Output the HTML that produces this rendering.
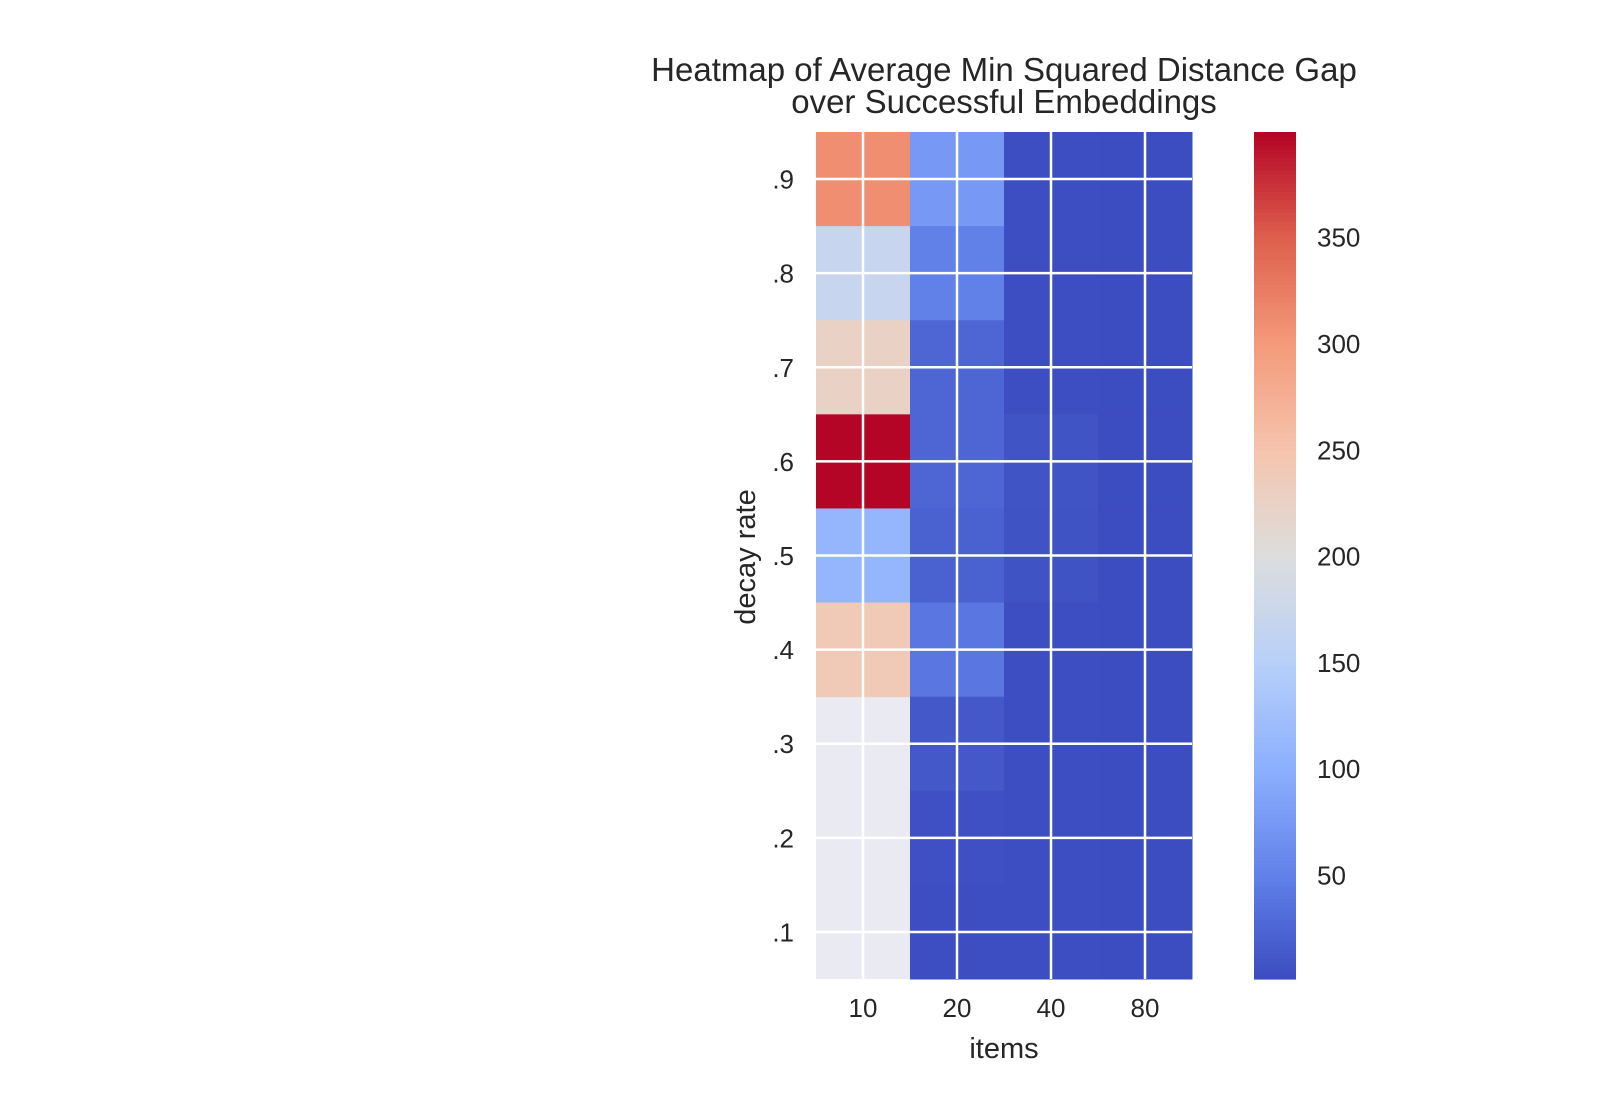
<!DOCTYPE html>
<html><head><meta charset="utf-8"><style>
body{margin:0;background:#fff;}
svg text{font-family:"Liberation Sans",Arial,sans-serif;fill:#262626;}
</style></head><body>
<svg id="chart" width="1600" height="1100" viewBox="0 0 1600 1100">
<g id="title">
<text x="1004" y="81" font-size="33" text-anchor="middle">Heatmap of Average Min Squared Distance Gap</text>
<text x="1004" y="113" font-size="33" text-anchor="middle">over Successful Embeddings</text>
</g>
<rect x="816" y="132" width="376" height="847" fill="#eaeaf2"/>
<g id="cells"></g>
<g id="grid"></g>
<g id="xticks"></g>
<g id="yticks"></g>
<text x="1004" y="1058" font-size="29" text-anchor="middle">items</text>
<text transform="translate(755,557) rotate(-90)" font-size="29" text-anchor="middle">decay rate</text>
<g id="cbar"></g>
</svg>
<script>
const items = ["10","20","40","80"];
const decay = [".9",".8",".7",".6",".5",".4",".3",".2",".1"];
const col10 = [310,170,225,399,110,240,null,null,null];
const col20 = [75,50,25,25,20,40,12,5,3];
const col40 = [3,3,3,8,7,3,3,3,3];
const col80 = [2,2,2,2,2,2,2,2,2];
const cbarTicks = [50,100,150,200,250,300,350];
const vmin = 1, vmax = 399.5;
const values = [col10,col20,col40,col80];
const stops = [[59,76,192],[98,130,234],[141,176,254],[184,208,249],[221,221,221],[245,196,173],[244,154,123],[222,96,77],[180,4,38]];
function cmap(v){let t=Math.max(0,Math.min(1,(v-vmin)/(vmax-vmin)))*8;let i=Math.min(7,Math.floor(t)),f=t-i;const a=stops[i],b=stops[i+1];return `rgb(${a.map((c,k)=>Math.round(c+(b[k]-c)*f)).join(',')})`;}
const X0=816,X1=1192,Y0=132,Y1=979;
const cw=(X1-X0)/items.length, ch=(Y1-Y0)/decay.length;
const xs=i=>X0+i*cw, ys=j=>Y0+j*ch;
const NS="http://www.w3.org/2000/svg";
function mk(tag,attrs,parent){const e=document.createElementNS(NS,tag);for(const k in attrs)e.setAttribute(k,attrs[k]);parent.appendChild(e);return e;}
const cells=document.getElementById('cells');
values.forEach((col,i)=>col.forEach((v,j)=>{
 if(v===null) return;
 const r=mk('rect',{x:xs(i),y:ys(j),width:cw+0.5,height:ch+0.5,fill:cmap(v)},cells);
 
 
}));
const grid=document.getElementById('grid');
items.forEach((_,i)=>{const l=mk('line',{x1:xs(i)+cw/2,x2:xs(i)+cw/2,y1:Y0,y2:Y1,stroke:'#fff','stroke-width':2.5},grid);
 
 });
decay.forEach((_,j)=>{const l=mk('line',{x1:X0,x2:X1,y1:ys(j)+ch/2,y2:ys(j)+ch/2,stroke:'#fff','stroke-width':2.5},grid);
 
 });
const xt=document.getElementById('xticks');
items.forEach((s,i)=>{const t=mk('text',{x:xs(i)+cw/2,y:1017,'font-size':26,'text-anchor':'middle'},xt);t.textContent=s;
 
 });
const yt=document.getElementById('yticks');
decay.forEach((s,j)=>{const t=mk('text',{x:794,y:ys(j)+ch/2+9.5,'font-size':26,'text-anchor':'end'},yt);t.textContent=s;
 
 });
const cb=document.getElementById('cbar');
const CX=1254,CW=42;
for(let k=0;k<200;k++){const y=Y1-(k+1)*(Y1-Y0)/200;const r=mk('rect',{x:CX,y:y,width:CW,height:(Y1-Y0)/200+0.6,fill:cmap(vmin+(k+0.5)/200*(vmax-vmin))},cb);
 
 }
const cy=v=>Y1-(v-vmin)/(vmax-vmin)*(Y1-Y0);
cbarTicks.forEach(v=>{const t=mk('text',{x:1317,y:cy(v)+9.5,'font-size':26},cb);t.textContent=v;
 
 });
</script>
</body></html>
